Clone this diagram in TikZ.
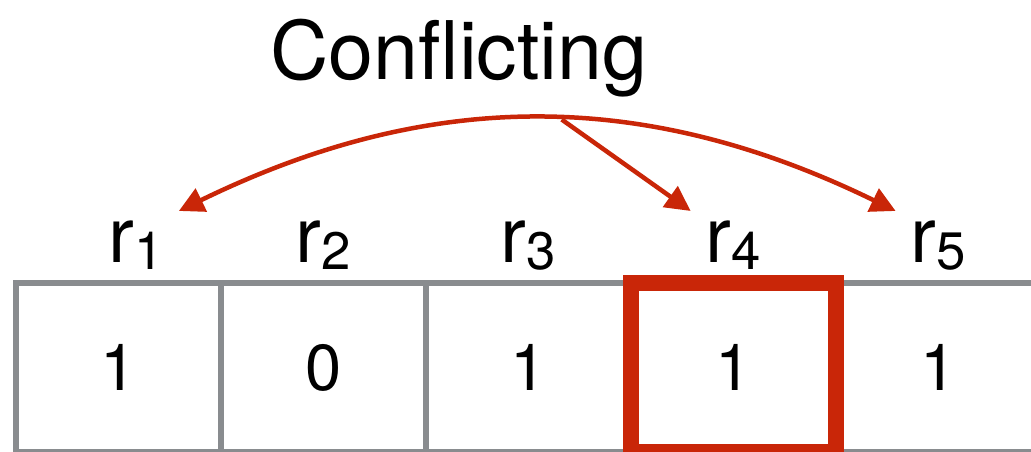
\documentclass[tikz,border=0pt]{standalone}
\usepackage{fontspec}
\setmainfont{TeX Gyre Heros}
\usetikzlibrary{arrows.meta,positioning}
\definecolor{cellgray}{RGB}{137,140,143}
\definecolor{hitred}{RGB}{201,38,8}
\newcommand{\reg}[1]{r\raisebox{-0.14cm}{\fontsize{30}{32}\selectfont #1}}

\begin{document}
\begin{tikzpicture}[>={Triangle[length=0.5cm,width=0.5cm]},
  cell/.style={draw=cellgray, line width=0.11cm, minimum width=4.1cm, minimum height=3.38cm, inner sep=0pt, outer sep=0pt, font=\fontsize{37}{40}\selectfont},
  reglabel/.style={anchor=base, inner xsep=0.3cm, inner ysep=0.2cm, font=\fontsize{44}{48}\selectfont},
  conflict/.style={hitred, line width=0.09cm}]
\useasboundingbox (0,0) rectangle (20.62,9.04);
% Register cells
\node[cell] (c1) at (2.37,1.69) {1};
\node[cell, right=0cm of c1] (c2) {0};
\node[cell, right=0cm of c2] (c3) {1};
\node[cell, right=0cm of c3] (c4) {1};
\node[cell, right=0cm of c4] (c5) {1};
% Highlighted cell
\draw[hitred, line width=0.32cm] (c4.south west) rectangle (c4.north east);
% Labels
\node[reglabel] (r1) at ([xshift=0.35cm, yshift=0.4cm]c1.north) {\reg{1}};
\node[reglabel] (r2) at ([yshift=0.4cm]c2.north) {\reg{2}};
\node[reglabel] (r3) at ([yshift=0.4cm]c3.north) {\reg{3}};
\node[reglabel] (r4) at ([yshift=0.4cm]c4.north) {\reg{4}};
\node[reglabel] (r5) at ([yshift=0.4cm]c5.north) {\reg{5}};
\node[anchor=base, font=\fontsize{46}{50}\selectfont] (title) at (9.18,7.44) {Conflicting};
% Arrows
\draw[conflict, <->] (r1.north east) to[bend left=26] coordinate[pos=0.535] (fork) (r5.north west);
\draw[conflict, ->] (fork) -- (r4.north west);
\end{tikzpicture}
\end{document}
